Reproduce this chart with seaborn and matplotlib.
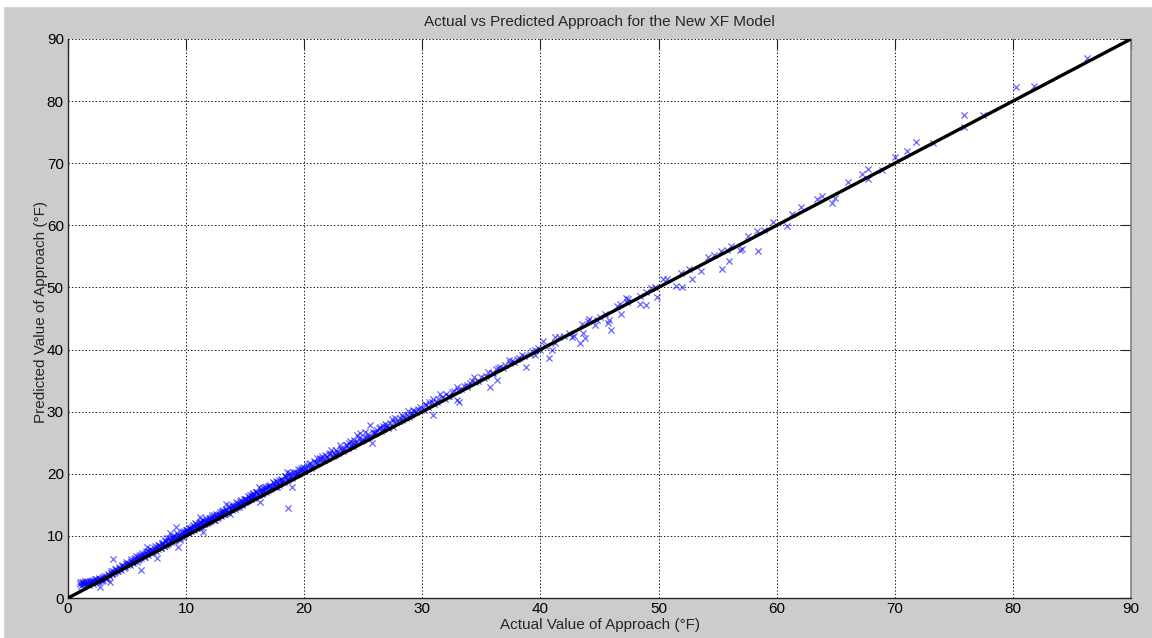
import matplotlib
matplotlib.use("Agg")
import matplotlib.pyplot as plt
import seaborn as sns
import pandas as pd
from matplotlib.patches import Rectangle

# ---- data (actual, predicted) ----
pts_0_5 = [(1.0,2.3),(1.1,2.0),(1.2,2.5),(1.3,2.6),(1.4,2.2),(1.5,2.4),(1.6,2.7),(1.7,2.45),(1.8,2.1),(1.9,2.6),
           (2.0,2.8),(2.1,2.3),(2.15,2.9),(2.2,2.6),(2.3,2.5),(2.4,3.0),(2.5,2.7),(2.55,2.8),(2.6,3.2),(2.7,1.8),
           (2.75,2.9),(2.8,3.1),(2.9,3.4),(3.0,2.9),(3.1,3.2),(3.2,3.6),(3.3,3.3),(3.4,3.9),(3.5,3.7),(3.55,2.6),
           (3.6,4.1),(3.7,3.8),(3.8,6.2),(3.85,4.3),(3.9,4.0),(3.97,4.2),(4.1,4.6),(4.2,4.4),(4.3,5.0),(4.4,4.8),
           (4.5,4.5),(4.6,5.2),(4.7,4.9),(4.8,5.05),(4.9,5.5),(5.0,5.3),
           (1.05,2.5),(1.25,2.2),(1.45,2.7),(1.65,2.3),(1.85,2.8),(2.05,2.5),(2.25,3.0),(2.45,2.6),(2.65,3.1),
           (2.85,2.7),(3.05,3.5),(3.25,3.1),(3.45,3.6),(3.65,4.3),(3.75,3.9),(4.0,4.7),(4.15,4.3),(4.35,4.7),
           (4.55,5.3),(4.75,5.1),(4.95,5.8)]
pts_5_10 = [(5.1,5.7),(5.2,5.4),(5.25,5.3),(5.3,6.0),(5.4,5.85),(5.5,5.6),(5.6,6.2),(5.7,6.4),(5.8,5.85),(5.9,6.6),
            (6.0,6.3),(6.1,6.9),(6.2,4.5),(6.2,6.4),(6.3,7.0),(6.4,6.6),(6.5,6.65),(6.55,7.3),(6.65,8.15),(6.7,7.1),
            (6.8,7.5),(6.9,7.45),(7.0,7.2),(7.1,7.8),(7.2,7.6),(7.3,8.0),(7.4,7.7),(7.5,6.4),(7.55,8.2),(7.6,7.9),
            (7.7,8.5),(7.8,8.25),(7.9,8.1),(8.0,8.7),(8.05,8.9),(8.1,8.4),(8.2,9.1),(8.3,8.6),(8.35,9.6),(8.45,9.2),
            (8.5,8.9),(8.6,10.4),(8.7,9.3),(8.8,9.8),(8.9,9.5),(9.0,9.2),(9.05,10.0),(9.15,11.4),(9.2,9.7),(9.3,10.2),
            (9.35,8.25),(9.4,9.9),(9.5,9.35),(9.55,10.3),(9.6,10.0),(9.7,10.6),(9.8,10.1),(9.9,10.4),(9.95,10.9),
            (5.15,5.5),(5.35,6.2),(5.55,5.9),(5.75,6.7),(5.95,6.1),(6.05,6.8),(6.25,7.2),(6.45,6.9),(6.6,7.6),
            (6.75,7.0),(6.95,7.9),(7.15,7.4),(7.35,8.3),(7.45,7.6),(7.65,8.6),(7.85,8.0),(7.95,8.8),(8.15,8.3),
            (8.25,9.3),(8.4,8.7),(8.55,9.6),(8.75,9.0),(8.85,10.0),(9.1,9.5),(9.25,10.4),(9.45,9.7),(9.65,10.7),
            (9.75,9.9),(9.85,10.8)]
pts_10_15 = [(10.0,10.6),(10.1,11.0),(10.2,10.7),(10.3,10.95),(10.35,11.3),(10.4,10.8),(10.5,11.4),(10.6,11.1),
             (10.7,11.6),(10.75,12.1),(10.8,11.3),(10.9,11.8),(11.0,11.5),(11.05,12.0),(11.1,11.7),(11.2,13.1),
             (11.2,11.5),(11.3,12.2),(11.4,11.9),(11.45,10.7),(11.5,12.4),(11.6,12.0),(11.7,12.6),(11.8,12.3),
             (11.9,12.3),(12.0,12.9),(12.1,12.5),(12.2,13.0),(12.3,12.7),(12.4,13.3),(12.45,12.55),(12.5,13.1),
             (12.6,13.35),(12.7,13.0),(12.8,13.6),(12.9,13.4),(13.0,13.9),(13.1,13.5),(13.15,14.2),(13.25,13.8),
             (13.4,15.1),(13.4,14.1),(13.5,13.9),(13.6,14.5),(13.7,13.6),(13.8,14.3),(13.9,14.8),(14.0,14.7),
             (14.1,14.4),(14.2,15.0),(14.3,14.7),(14.4,15.3),(14.5,14.9),(14.55,15.1),(14.6,15.6),(14.7,15.2),
             (14.8,15.5),(14.9,15.9),(15.0,15.4),
             (10.05,10.9),(10.15,10.5),(10.25,11.3),(10.45,11.1),(10.55,11.8),(10.65,11.0),(10.85,11.9),(10.95,11.2),
             (11.15,12.2),(11.25,11.6),(11.35,12.5),(11.55,11.9),(11.65,12.8),(11.75,12.0),(11.95,12.9),(12.05,12.4),
             (12.15,13.3),(12.35,12.6),(12.55,13.6),(12.65,12.9),(12.85,13.9),(12.95,13.2),(13.05,14.0),(13.2,13.6),
             (13.35,14.4),(13.55,13.8),(13.65,14.8),(13.85,14.1),(13.95,15.0),(14.15,14.6),(14.25,15.4),(14.45,14.7),
             (14.65,15.7),(14.75,15.0),(14.95,16.0)]
pts_15_20 = [(15.1,16.0),(15.2,15.7),(15.3,16.3),(15.4,16.6),(15.5,16.0),(15.55,16.6),(15.6,16.3),(15.7,16.9),
             (15.8,16.4),(15.9,17.0),(16.0,17.1),(16.1,16.7),(16.2,17.8),(16.25,15.5),(16.3,17.2),(16.4,16.9),
             (16.5,17.7),(16.55,17.3),(16.7,17.5),(16.8,17.9),(16.9,17.4),(17.0,18.0),(17.1,17.5),(17.1,18.2),
             (17.3,17.9),(17.4,18.5),(17.5,18.1),(17.7,18.7),(17.7,17.9),(17.8,18.4),(17.9,19.0),(18.1,18.7),
             (18.1,19.0),(18.2,18.8),(18.4,19.6),(18.5,20.3),(18.5,19.0),(18.65,14.45),(18.7,19.4),(18.8,19.5),
             (18.8,20.1),(18.95,17.9),(19.1,19.8),(19.2,20.3),(19.35,20.1),(19.5,19.9),(19.65,20.6),(19.8,20.6),
             (19.9,21.1),(20.0,20.4),
             (15.15,15.6),(15.25,16.5),(15.45,15.9),(15.65,16.7),(15.75,16.1),(15.95,17.1),(16.15,16.6),(16.35,17.5),
             (16.45,16.8),(16.65,17.8),(16.75,17.1),(16.95,18.1),(17.2,17.7),(17.35,18.6),(17.55,17.9),(17.65,18.9),
             (17.85,18.2),(18.0,19.2),(18.3,18.7),(18.35,19.7),(18.6,19.1),(18.75,20.0),(19.0,19.4),(19.05,20.3),
             (19.3,19.8),(19.45,20.7),(19.6,20.1),(19.75,21.0),(19.95,20.5)]
pts_20_30 = [(20.2,21.4),(20.3,20.9),(20.5,21.7),(20.7,21.2),(20.9,21.9),(21.05,22.5),(21.2,21.8),(21.35,22.3),
             (21.5,22.9),(21.7,22.2),(21.9,22.7),(22.2,23.3),(22.3,23.8),(22.4,22.9),(22.6,23.0),(22.8,23.5),
             (23.0,24.6),(23.2,23.9),(23.4,24.0),(23.6,24.6),(23.9,25.2),(24.0,24.5),(24.15,24.4),(24.3,25.0),
             (24.45,26.25),(24.7,26.6),(24.8,25.3),(25.0,25.4),(25.15,26.8),(25.3,26.0),(25.6,27.85),(25.7,24.9),
             (25.9,26.5),(26.1,26.7),(26.3,27.3),(26.5,26.9),(26.65,27.75),(26.9,27.5),(27.1,27.3),(27.4,28.8),
             (27.55,27.6),(27.8,28.4),(28.0,28.5),(28.25,28.7),(28.4,29.2),(28.6,29.0),(28.8,30.1),(29.0,29.4),
             (29.2,30.3),(29.5,29.9),(29.8,30.8),
             (20.1,21.0),(20.4,21.5),(20.6,21.0),(20.8,22.0),(21.1,21.7),(21.3,22.6),(21.6,22.3),(21.8,23.0),
             (22.0,22.6),(22.1,23.2),(22.5,23.4),(22.7,23.9),(22.9,23.4),(23.1,24.2),(23.3,23.7),(23.5,24.7),
             (23.7,24.2),(23.8,25.0),(24.1,24.9),(24.2,25.5),(24.5,25.1),(24.6,25.8),(24.9,25.6),(25.2,25.7),
             (25.4,26.4),(25.5,25.9),(25.8,26.8),(26.0,26.5),(26.2,27.1),(26.4,27.6),(26.7,27.2),(26.8,28.0),
             (27.0,27.8),(27.3,28.1),(27.6,28.3),(27.7,28.9),(28.1,28.9),(28.3,29.4),(28.7,29.5),(28.9,29.2),
             (29.1,29.8),(29.3,30.1),(29.6,30.4),(29.9,30.3)]
pts_30_40 = [(30.1,30.3),(30.2,31.2),(30.5,30.8),(30.8,31.6),(30.9,32.0),(30.9,29.5),(31.2,31.5),(31.5,32.8),
             (31.9,32.0),(32.2,32.6),(32.5,33.2),(32.9,33.9),(32.9,31.9),(33.1,31.6),(33.5,34.1),(33.75,34.0),
             (34.0,34.6),(34.4,35.6),(34.7,34.9),(35.2,35.4),(35.6,36.4),(35.7,33.9),(36.0,36.3),(36.3,35.1),
             (36.4,37.1),(36.8,37.0),(37.3,38.3),(37.4,37.8),(37.8,38.0),(38.2,38.6),(38.4,39.1),(38.8,37.25),
             (39.1,39.3),(39.5,39.9),(39.55,39.1),
             (30.3,31.0),(30.6,31.5),(31.0,31.3),(31.3,32.1),(31.7,32.3),(32.0,32.9),(32.3,32.6),(32.7,33.4),
             (33.0,33.5),(33.3,33.6),(33.8,34.3),(34.2,34.9),(34.5,34.8),(35.0,35.6),(35.4,35.8),(35.9,36.2),
             (36.2,36.9),(36.6,37.2),(37.0,37.5),(37.6,38.2),(38.0,38.4),(38.6,39.0),(39.3,39.8),(39.8,40.2)]
pts_40_90 = [(40.0,39.9),(40.25,41.3),(40.4,40.5),(40.75,38.6),(41.0,40.0),(41.25,42.0),(41.25,41.0),(41.6,42.1),
             (42.0,42.2),(42.4,42.6),(42.65,42.1),(42.85,42.2),(43.35,41.0),(43.5,44.1),(43.6,42.7),(43.8,41.8),
             (44.05,44.6),(44.1,45.0),(44.6,44.0),(44.75,44.75),(45.0,45.3),(45.45,45.8),(45.75,44.2),(45.8,44.75),
             (46.0,43.15),(46.45,47.0),(46.7,47.4),(46.8,45.7),(47.25,48.25),(47.3,47.6),(47.45,48.1),(48.4,48.7),
             (48.4,47.4),(48.9,49.2),(48.9,47.1),(49.4,49.9),(49.7,50.1),(49.85,48.5),(50.4,51.3),(50.7,51.3),
             (51.5,50.3),(51.9,52.3),(52.0,50.0),(52.6,53.0),(52.8,51.4),(53.6,52.7),(54.2,54.85),(54.7,55.2),
             (55.3,55.8),(55.35,52.9),(55.8,56.0),(56.0,54.3),(56.1,56.7),(56.9,56.1),(57.1,56.2),(57.55,58.3),
             (58.3,59.1),(58.45,55.9),(58.9,59.25),(59.7,60.5),(60.9,59.9),(61.3,61.9),(62.1,63.0),(63.4,64.3),
             (63.8,64.8),(64.7,63.6),(64.9,64.35),(66.0,67.0),(67.2,68.2),(67.7,69.0),(67.7,67.4),(68.9,68.9),
             (70.0,71.05),(71.0,72.0),(71.78,73.4),(73.2,73.3),(75.84,77.8),(75.84,75.9),(77.45,77.8),
             (80.24,82.3),(81.77,82.4),(86.26,87.0)]

ideal_x = [0, 90]
ideal_y = [0, 90]

ticks = [0, 10, 20, 30, 40, 50, 60, 70, 80, 90]
title = "Actual vs Predicted Approach for the New XF Model"
xlabel = "Actual Value of Approach (°F)"
ylabel = "Predicted Value of Approach (°F)"

all_pts = pts_0_5 + pts_5_10 + pts_10_15 + pts_15_20 + pts_20_30 + pts_30_40 + pts_40_90
df = pd.DataFrame(all_pts, columns=["actual", "predicted"])
line_df = pd.DataFrame({"x": ideal_x, "y": ideal_y})

# ---- styling ----
sns.set_style("white")
plt.rcParams["font.family"] = ["Liberation Sans", "DejaVu Sans"]
plt.rcParams["font.size"] = 11

W, H = 1152, 638
fig = plt.figure(figsize=(W / 100, H / 100), dpi=100, facecolor="#cccccc")
# thin white strips at top/left as in the screenshot
fig.patches.append(Rectangle((0, 1 - 6 / H), 1, 6 / H, transform=fig.transFigure, color="white", zorder=0))
fig.patches.append(Rectangle((0, 0), 3 / W, 1, transform=fig.transFigure, color="white", zorder=0))

ax = fig.add_axes([68 / W, 1 - 598 / H, (1131 - 68) / W, (598 - 39) / H])
ax.set_facecolor("white")

sns.scatterplot(data=df, x="actual", y="predicted", ax=ax, marker="x", s=20,
                color="blue", alpha=0.6, linewidth=0.9, zorder=3, legend=False)
sns.lineplot(data=line_df, x="x", y="y", ax=ax, color="black", linewidth=2.4, zorder=4)

ax.set_xlim(0, 90)
ax.set_ylim(0, 90)
ax.set_xticks(ticks)
ax.set_yticks(ticks)
ax.set_xticklabels([str(t) for t in ticks])
ax.set_yticklabels([str(t) for t in ticks])

ax.grid(True, color="#222222", linestyle=(0, (1.5, 2.0)), linewidth=0.7, zorder=1)
ax.set_axisbelow(True)
ax.tick_params(direction="in", length=7, width=0.8, top=True, right=True,
               labelsize=11, colors="#222222", labelcolor="black", pad=3)

for side in ["left", "bottom"]:
    ax.spines[side].set_color("#262626")
    ax.spines[side].set_linewidth(1.0)
ax.spines["right"].set_color("#808080")
ax.spines["right"].set_linewidth(1.2)
ax.spines["top"].set_visible(False)

ax.set_xlabel("")
ax.set_ylabel("")
fig.text((68 + 1131) / 2 / W, 1 - 22 / H, title, ha="center", va="center", fontsize=11)
fig.text((68 + 1131) / 2 / W, 1 - 625 / H, xlabel, ha="center", va="center", fontsize=11)
fig.text(41 / W, 1 - 312 / H, ylabel, ha="center", va="center", rotation=90, fontsize=11)

fig.savefig("out.png", dpi=100, facecolor=fig.get_facecolor())
